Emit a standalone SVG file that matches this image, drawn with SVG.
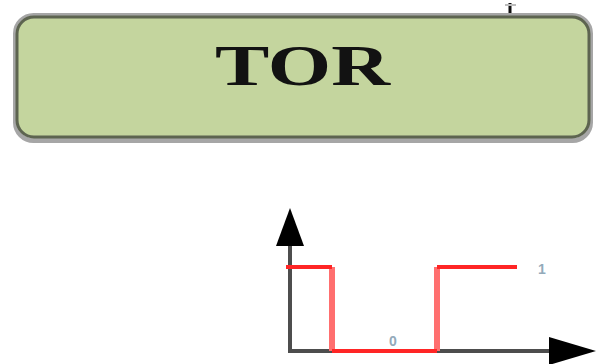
<svg xmlns="http://www.w3.org/2000/svg" width="596" height="364" viewBox="0 0 596 364">
  <style>
    .halo { fill: none; stroke: #a6a6a6; stroke-width: 5; }
    .box { fill: #c4d59e; stroke: #5d6450; stroke-width: 3; }
    .title { font-family: "Liberation Serif", "Times New Roman", serif; font-weight: bold; font-size: 56px; fill: #121212; }
    .axis { fill: none; stroke: #4d4d4d; stroke-width: 4; }
    .head { fill: #000; }
    .sig-h { fill: none; stroke: #ff2525; stroke-width: 4; }
    .sig-v { fill: none; stroke: #ff6f6f; stroke-width: 6; }
    .lvl { font-family: "Liberation Sans", Arial, sans-serif; font-size: 14px; font-weight: bold; fill: #93aaba; }
  </style>

  <!-- stub of the incoming connector at the top edge -->
  <g id="connectors">
    <path d="M510 3 V14" stroke="#111" stroke-width="3" fill="none"/>
    <path d="M505 5 H516" stroke="#bbb" stroke-width="2" fill="none"/>
  </g>

  <!-- block -->
  <g id="tor">
    <rect class="halo" x="15.5" y="15.5" width="575" height="125" rx="18"/>
    <rect class="box" x="17" y="17" width="572" height="120" rx="17"/>
    <text class="title" x="215" y="85" textLength="175" lengthAdjust="spacingAndGlyphs">TOR</text>
  </g>

  <!-- on/off timing chart -->
  <g id="chart">
    <path class="axis" d="M290 240 V351 H552"/>
    <polygon class="head" points="290,208 276,246 304,246"/>
    <polygon class="head" points="596,351 549,337 549,365"/>
    <path class="sig-v" d="M332 267 V351"/>
    <path class="sig-v" d="M437 351 V267"/>
    <path class="sig-h" d="M286 267 H332"/>
    <path class="sig-h" d="M332 351 H437"/>
    <path class="sig-h" d="M437 267 H517"/>
    <text class="lvl" x="393" y="346" text-anchor="middle">0</text>
    <text class="lvl" x="542" y="274" text-anchor="middle">1</text>
  </g>
</svg>
